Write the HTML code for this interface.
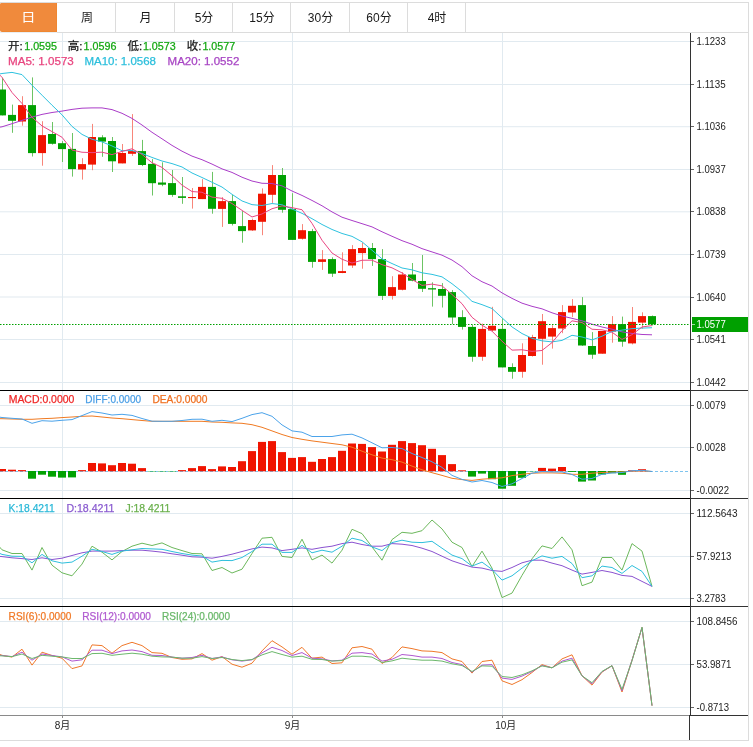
<!DOCTYPE html>
<html><head><meta charset="utf-8"><style>
html,body{margin:0;padding:0;background:#fff;width:753px;height:747px;overflow:hidden}
svg{display:block}
</style></head><body>
<svg width="753" height="747" viewBox="0 0 753 747">
<defs>
<clipPath id="cmain"><rect x="0" y="33" width="690" height="357"/></clipPath>
<clipPath id="cmacd"><rect x="0" y="391" width="690" height="107"/></clipPath>
<clipPath id="ckdj"><rect x="0" y="499" width="690" height="107"/></clipPath>
<clipPath id="crsi"><rect x="0" y="607" width="690" height="108"/></clipPath>
</defs>
<rect x="0" y="0" width="753" height="747" fill="#fff"/>
<!-- tab bar -->
<rect x="0" y="2" width="749" height="1" fill="#dcdcdc"/>
<rect x="0" y="32" width="749" height="1" fill="#dcdcdc"/>
<rect x="748" y="2" width="1" height="739" fill="#dcdcdc"/>
<rect x="0" y="740" width="749" height="1" fill="#dcdcdc"/>
<rect x="115" y="3" width="1" height="29" fill="#dcdcdc"/><rect x="174" y="3" width="1" height="29" fill="#dcdcdc"/><rect x="232" y="3" width="1" height="29" fill="#dcdcdc"/><rect x="290" y="3" width="1" height="29" fill="#dcdcdc"/><rect x="349" y="3" width="1" height="29" fill="#dcdcdc"/><rect x="407" y="3" width="1" height="29" fill="#dcdcdc"/><rect x="465" y="3" width="1" height="29" fill="#dcdcdc"/>
<rect x="0" y="32" width="57" height="1" fill="#e9eef2"/>
<path d="M0 5 Q0 3 2 3 L57 3 L57 32 L2 32 Q0 32 0 30 Z" fill="#ef8731"/>
<path d="M0 5 Q0 3 2 3 L56 3 L56 31 L2 31 Q0 31 0 29 Z" fill="#f08a3c"/>
<g font-family="'Liberation Sans', 'Noto Sans CJK SC', sans-serif" font-size="12"><text x="21.1" y="21.7" fill="#fff" textLength="14.6" lengthAdjust="spacingAndGlyphs">日</text><text x="87" y="21.5" text-anchor="middle" fill="#1a1a1a">周</text><text x="145.5" y="21.5" text-anchor="middle" fill="#1a1a1a">月</text><text x="204" y="21.5" text-anchor="middle" fill="#1a1a1a">5分</text><text x="262" y="21.5" text-anchor="middle" fill="#1a1a1a">15分</text><text x="320.5" y="21.5" text-anchor="middle" fill="#1a1a1a">30分</text><text x="379" y="21.5" text-anchor="middle" fill="#1a1a1a">60分</text><text x="437" y="21.5" text-anchor="middle" fill="#1a1a1a">4时</text></g>
<rect x="0" y="41" width="690" height="1" fill="#e1eaf0"/>
<rect x="0" y="84" width="690" height="1" fill="#e1eaf0"/>
<rect x="0" y="126.2" width="690" height="1" fill="#e1eaf0"/>
<rect x="0" y="169" width="690" height="1" fill="#e1eaf0"/>
<rect x="0" y="211.3" width="690" height="1" fill="#e1eaf0"/>
<rect x="0" y="254" width="690" height="1" fill="#e1eaf0"/>
<rect x="0" y="296.5" width="690" height="1" fill="#e1eaf0"/>
<rect x="0" y="339" width="690" height="1" fill="#e1eaf0"/>
<rect x="0" y="382" width="690" height="1" fill="#e1eaf0"/>
<rect x="0" y="405" width="690" height="1" fill="#e1eaf0"/>
<rect x="0" y="447" width="690" height="1" fill="#e1eaf0"/>
<rect x="0" y="490" width="690" height="1" fill="#e1eaf0"/>
<rect x="0" y="513" width="690" height="1" fill="#e1eaf0"/>
<rect x="0" y="556" width="690" height="1" fill="#e1eaf0"/>
<rect x="0" y="598" width="690" height="1" fill="#e1eaf0"/>
<rect x="0" y="621" width="690" height="1" fill="#e1eaf0"/>
<rect x="0" y="664" width="690" height="1" fill="#e1eaf0"/>
<rect x="0" y="707" width="690" height="1" fill="#e1eaf0"/>
<rect x="62" y="33" width="1" height="682" fill="#e1eaf0"/>
<rect x="292" y="33" width="1" height="682" fill="#e1eaf0"/>
<rect x="502" y="33" width="1" height="682" fill="#e1eaf0"/>
<g clip-path="url(#cmain)"><rect x="2" y="77.7" width="1" height="37.7" fill="#6cc464"/><rect x="-2" y="89.5" width="8" height="25.9" fill="#00a000"/><rect x="12" y="104.6" width="1" height="28.2" fill="#6cc464"/><rect x="8" y="114.9" width="8" height="5.9" fill="#00a000"/><rect x="22" y="96.2" width="1" height="29.5" fill="#f8867a"/><rect x="18" y="105.1" width="8" height="16.4" fill="#f01400"/><rect x="32" y="77.4" width="1" height="79.1" fill="#6cc464"/><rect x="28" y="105.1" width="8" height="48" fill="#00a000"/><rect x="42" y="121.2" width="1" height="44.5" fill="#f8867a"/><rect x="38" y="135.1" width="8" height="18" fill="#f01400"/><rect x="52" y="122" width="1" height="22.6" fill="#6cc464"/><rect x="48" y="134" width="8" height="9.8" fill="#00a000"/><rect x="62" y="141.1" width="1" height="20.9" fill="#6cc464"/><rect x="58" y="143.2" width="8" height="5.9" fill="#00a000"/><rect x="72" y="133" width="1" height="43.6" fill="#6cc464"/><rect x="68" y="148.9" width="8" height="20.2" fill="#00a000"/><rect x="82" y="158.2" width="1" height="21.4" fill="#f8867a"/><rect x="78" y="164.1" width="8" height="5.4" fill="#f01400"/><rect x="92" y="123.9" width="1" height="46.3" fill="#f8867a"/><rect x="88" y="137" width="8" height="27.6" fill="#f01400"/><rect x="102" y="135.2" width="1" height="21.6" fill="#6cc464"/><rect x="98" y="137.3" width="8" height="4.3" fill="#00a000"/><rect x="112" y="137" width="1" height="35" fill="#6cc464"/><rect x="108" y="141" width="8" height="20.3" fill="#00a000"/><rect x="122" y="144" width="1" height="19.4" fill="#f8867a"/><rect x="118" y="153" width="8" height="10.4" fill="#f01400"/><rect x="132" y="114.1" width="1" height="41.8" fill="#f8867a"/><rect x="128" y="151.1" width="8" height="2.7" fill="#f01400"/><rect x="142" y="139.9" width="1" height="26.2" fill="#6cc464"/><rect x="138" y="151.1" width="8" height="13.9" fill="#00a000"/><rect x="152" y="159.1" width="1" height="36.4" fill="#6cc464"/><rect x="148" y="163.9" width="8" height="19.3" fill="#00a000"/><rect x="162" y="162.3" width="1" height="23.9" fill="#6cc464"/><rect x="158" y="182.5" width="8" height="2.2" fill="#00a000"/><rect x="172" y="170" width="1" height="26.8" fill="#6cc464"/><rect x="168" y="183.1" width="8" height="11.8" fill="#00a000"/><rect x="182" y="177" width="1" height="26.8" fill="#6cc464"/><rect x="178" y="196.3" width="8" height="1.6" fill="#00a000"/><rect x="192" y="188" width="1" height="20.6" fill="#f8867a"/><rect x="188" y="197" width="8" height="1.1" fill="#f01400"/><rect x="202" y="179.1" width="1" height="20" fill="#f8867a"/><rect x="198" y="186.9" width="8" height="12.2" fill="#f01400"/><rect x="212" y="171.9" width="1" height="41.8" fill="#6cc464"/><rect x="208" y="186.9" width="8" height="21.9" fill="#00a000"/><rect x="222" y="197.1" width="1" height="29.8" fill="#f8867a"/><rect x="218" y="201.1" width="8" height="7.8" fill="#f01400"/><rect x="232" y="195" width="1" height="30.5" fill="#6cc464"/><rect x="228" y="201.1" width="8" height="22.8" fill="#00a000"/><rect x="242" y="211.1" width="1" height="31.6" fill="#6cc464"/><rect x="238" y="226.1" width="8" height="5" fill="#00a000"/><rect x="252" y="218.6" width="1" height="12.3" fill="#f8867a"/><rect x="248" y="220" width="8" height="10.4" fill="#f01400"/><rect x="262" y="188.4" width="1" height="46.8" fill="#f8867a"/><rect x="258" y="193.7" width="8" height="28.1" fill="#f01400"/><rect x="272" y="165.1" width="1" height="37.8" fill="#f8867a"/><rect x="268" y="175" width="8" height="19.8" fill="#f01400"/><rect x="282" y="168" width="1" height="44.7" fill="#6cc464"/><rect x="278" y="175" width="8" height="34.8" fill="#00a000"/><rect x="292" y="193.2" width="1" height="46.7" fill="#6cc464"/><rect x="288" y="209.1" width="8" height="30.8" fill="#00a000"/><rect x="302" y="224.1" width="1" height="15.5" fill="#f8867a"/><rect x="298" y="230.2" width="8" height="8.6" fill="#f01400"/><rect x="312" y="228.9" width="1" height="38.8" fill="#6cc464"/><rect x="308" y="231.1" width="8" height="30.8" fill="#00a000"/><rect x="322" y="250.1" width="1" height="19.8" fill="#f8867a"/><rect x="318" y="259.3" width="8" height="2.6" fill="#f01400"/><rect x="332" y="257.3" width="1" height="19.6" fill="#6cc464"/><rect x="328" y="259.1" width="8" height="14.6" fill="#00a000"/><rect x="342" y="252.3" width="1" height="20.9" fill="#f8867a"/><rect x="338" y="271.1" width="8" height="1.9" fill="#f01400"/><rect x="352" y="245.1" width="1" height="22.8" fill="#f8867a"/><rect x="348" y="249.1" width="8" height="16.4" fill="#f01400"/><rect x="362" y="242.7" width="1" height="26" fill="#f8867a"/><rect x="358" y="248" width="8" height="5.1" fill="#f01400"/><rect x="372" y="243" width="1" height="22.9" fill="#6cc464"/><rect x="368" y="248" width="8" height="11.1" fill="#00a000"/><rect x="382" y="249.1" width="1" height="50.9" fill="#6cc464"/><rect x="378" y="259.1" width="8" height="36.8" fill="#00a000"/><rect x="392" y="276.2" width="1" height="23.3" fill="#f8867a"/><rect x="388" y="287.1" width="8" height="8.8" fill="#f01400"/><rect x="402" y="272.1" width="1" height="18.3" fill="#f8867a"/><rect x="398" y="274.5" width="8" height="15.3" fill="#f01400"/><rect x="412" y="263" width="1" height="18.3" fill="#6cc464"/><rect x="408" y="274.5" width="8" height="6.2" fill="#00a000"/><rect x="422" y="255" width="1" height="37" fill="#6cc464"/><rect x="418" y="281" width="8" height="7.8" fill="#00a000"/><rect x="432" y="282.3" width="1" height="24.3" fill="#6cc464"/><rect x="428" y="288.2" width="8" height="1.3" fill="#00a000"/><rect x="442" y="283.1" width="1" height="24.4" fill="#6cc464"/><rect x="438" y="289" width="8" height="6.8" fill="#00a000"/><rect x="452" y="290.1" width="1" height="34.1" fill="#6cc464"/><rect x="448" y="292.1" width="8" height="25.4" fill="#00a000"/><rect x="462" y="310.2" width="1" height="19.4" fill="#6cc464"/><rect x="458" y="317.1" width="8" height="9.8" fill="#00a000"/><rect x="472" y="324.9" width="1" height="36.8" fill="#6cc464"/><rect x="468" y="326.9" width="8" height="29.9" fill="#00a000"/><rect x="482" y="323.6" width="1" height="37.2" fill="#f8867a"/><rect x="478" y="328.9" width="8" height="27.9" fill="#f01400"/><rect x="492" y="306.8" width="1" height="24.4" fill="#f8867a"/><rect x="488" y="325.8" width="8" height="4.7" fill="#f01400"/><rect x="502" y="318.2" width="1" height="49.2" fill="#6cc464"/><rect x="498" y="328.9" width="8" height="38.5" fill="#00a000"/><rect x="512" y="363.3" width="1" height="15.4" fill="#6cc464"/><rect x="508" y="367" width="8" height="4.8" fill="#00a000"/><rect x="522" y="343.3" width="1" height="34.4" fill="#f8867a"/><rect x="518" y="355" width="8" height="16.8" fill="#f01400"/><rect x="532" y="334.8" width="1" height="21.8" fill="#f8867a"/><rect x="528" y="337" width="8" height="19" fill="#f01400"/><rect x="542" y="314" width="1" height="50.7" fill="#f8867a"/><rect x="538" y="321.2" width="8" height="17.6" fill="#f01400"/><rect x="552" y="325.2" width="1" height="23.4" fill="#f8867a"/><rect x="548" y="328.1" width="8" height="8.5" fill="#f01400"/><rect x="562" y="305.1" width="1" height="28.1" fill="#f8867a"/><rect x="558" y="312.1" width="8" height="16.4" fill="#f01400"/><rect x="572" y="299.1" width="1" height="18" fill="#f8867a"/><rect x="568" y="305.8" width="8" height="6.7" fill="#f01400"/><rect x="582" y="297.1" width="1" height="48.8" fill="#6cc464"/><rect x="578" y="305.1" width="8" height="40.4" fill="#00a000"/><rect x="592" y="332.1" width="1" height="26.7" fill="#6cc464"/><rect x="588" y="346" width="8" height="8.7" fill="#00a000"/><rect x="602" y="331" width="1" height="22.7" fill="#f8867a"/><rect x="598" y="331" width="8" height="22.7" fill="#f01400"/><rect x="612" y="316.1" width="1" height="26.6" fill="#f8867a"/><rect x="608" y="324.1" width="8" height="7.5" fill="#f01400"/><rect x="622" y="316.6" width="1" height="30.1" fill="#6cc464"/><rect x="618" y="324.1" width="8" height="17.6" fill="#00a000"/><rect x="632" y="307" width="1" height="37.4" fill="#f8867a"/><rect x="628" y="321.9" width="8" height="21.5" fill="#f01400"/><rect x="642" y="312.3" width="1" height="16.3" fill="#f8867a"/><rect x="638" y="316.1" width="8" height="6.5" fill="#f01400"/><rect x="652" y="315.5" width="1" height="10" fill="#6cc464"/><rect x="648" y="316.1" width="8" height="8.2" fill="#00a000"/>
<path d="M-8 128.3 L2 126.8 L12 123.7 L22 120.4 L32 117.1 L42 114.4 L52 112.5 L62 111.1 L72 109.4 L82 108.2 L92 107.9 L102 107.9 L112 109.6 L122 113.3 L132 118.4 L142 125 L152 132.3 L162 138.8 L172 145.4 L182 151.2 L192 156.12 L202 159.69 L212 164.09 L222 168.89 L232 172.43 L242 177.23 L252 181.04 L262 183.27 L272 183.56 L282 185.85 L292 191 L302 195.43 L312 200.45 L322 205.77 L332 211.9 L342 217.21 L352 220.5 L362 223.67 L372 226.88 L382 231.78 L392 236.28 L402 240.66 L412 244.26 L422 248.64 L432 251.92 L442 255.16 L452 260.03 L462 266.69 L472 275.78 L482 281.74 L492 286.03 L502 292.89 L512 298.38 L522 303.17 L532 306.33 L542 308.84 L552 312.79 L562 316 L572 318.33 L582 320.81 L592 324.19 L602 327.01 L612 329.19 L622 331.83 L632 333.45 L642 334.47 L652 334.81" fill="none" stroke="#aa3cc8" stroke-width="1"/>
<path d="M-8 75.5 L2 73.5 L12 72.4 L22 74.6 L32 85.2 L42 95.2 L52 105.2 L62 114.8 L72 126.4 L82 134.4 L92 139.26 L102 141.88 L112 145.93 L122 150.72 L132 150.52 L142 153.51 L152 157.45 L162 161.01 L172 163.59 L182 166.97 L192 172.97 L202 177.5 L212 182.25 L222 187.06 L232 194.34 L242 200.95 L252 204.63 L262 205.53 L272 203.54 L282 204.73 L292 209.02 L302 213.35 L312 218.66 L322 224.48 L332 229.46 L342 233.46 L352 236.37 L362 241.8 L372 250.21 L382 258.82 L392 263.54 L402 267.97 L412 269.85 L422 272.8 L432 274.38 L442 276.85 L452 283.69 L462 291.58 L472 301.35 L482 304.65 L492 308.52 L502 317.81 L512 326.92 L522 333.54 L532 338.29 L542 340.83 L552 341.89 L562 340.41 L572 335.31 L582 336.97 L592 339.86 L602 336.22 L612 331.45 L622 330.12 L632 328.61 L642 328.1 L652 327.72" fill="none" stroke="#2ec2df" stroke-width="1"/>
<path d="M-8 67.3 L2 77.3 L12 92.5 L22 103.5 L32 117.3 L42 125.9 L52 131.58 L62 137.24 L72 150.04 L82 152.24 L92 152.62 L102 152.18 L112 154.62 L122 151.4 L132 148.8 L142 154.4 L152 162.72 L162 167.4 L172 175.78 L182 185.14 L192 191.54 L202 192.28 L212 197.1 L222 198.34 L232 203.54 L242 210.36 L252 216.98 L262 213.96 L272 208.74 L282 205.92 L292 207.68 L302 209.72 L312 223.36 L322 240.22 L332 253 L342 259.24 L352 263.02 L362 260.24 L372 260.2 L382 264.64 L392 267.84 L402 272.92 L412 279.46 L422 285.4 L432 284.12 L442 285.86 L452 294.46 L462 303.7 L472 317.3 L482 325.18 L492 331.18 L502 341.16 L512 350.14 L522 349.78 L532 351.4 L542 350.48 L552 342.62 L562 330.68 L572 320.84 L582 322.54 L592 329.24 L602 329.82 L612 332.22 L622 339.4 L632 334.68 L642 326.96 L652 325.62" fill="none" stroke="#ea4683" stroke-width="1"/>
</g>
<line x1="0" y1="324.5" x2="689" y2="324.5" stroke="#00a000" stroke-width="1" stroke-dasharray="1.5 1.5"/>
<g clip-path="url(#cmacd)">
<line x1="0" y1="471.5" x2="690" y2="471.5" stroke="#7fc4ee" stroke-width="1" stroke-dasharray="3 2"/>
<rect x="-2" y="469" width="8" height="2.3" fill="#f01400"/><rect x="8" y="469.7" width="8" height="1.6" fill="#f01400"/><rect x="18" y="470.1" width="8" height="1.2" fill="#f01400"/><rect x="28" y="471" width="8" height="7.7" fill="#02a202"/><rect x="38" y="471" width="8" height="3.7" fill="#02a202"/><rect x="48" y="471" width="8" height="5.7" fill="#02a202"/><rect x="58" y="471" width="8" height="6.6" fill="#02a202"/><rect x="68" y="471" width="8" height="6.4" fill="#02a202"/><rect x="78" y="470.1" width="8" height="1.2" fill="#f01400"/><rect x="88" y="463" width="8" height="8.3" fill="#f01400"/><rect x="98" y="463.4" width="8" height="7.9" fill="#f01400"/><rect x="108" y="465.2" width="8" height="6.1" fill="#f01400"/><rect x="118" y="463" width="8" height="8.3" fill="#f01400"/><rect x="128" y="463.7" width="8" height="7.6" fill="#f01400"/><rect x="138" y="468.1" width="8" height="3.2" fill="#f01400"/><rect x="148" y="471" width="8" height="0.4" fill="#02a202"/><rect x="158" y="471" width="8" height="0.4" fill="#02a202"/><rect x="168" y="471" width="8" height="0.4" fill="#02a202"/><rect x="178" y="470.1" width="8" height="1.2" fill="#f01400"/><rect x="188" y="468.1" width="8" height="3.2" fill="#f01400"/><rect x="198" y="466.1" width="8" height="5.2" fill="#f01400"/><rect x="208" y="469.1" width="8" height="2.2" fill="#f01400"/><rect x="218" y="466.4" width="8" height="4.9" fill="#f01400"/><rect x="228" y="467" width="8" height="4.3" fill="#f01400"/><rect x="238" y="461.2" width="8" height="10.1" fill="#f01400"/><rect x="248" y="451.1" width="8" height="20.2" fill="#f01400"/><rect x="258" y="441.9" width="8" height="29.4" fill="#f01400"/><rect x="268" y="441.1" width="8" height="30.2" fill="#f01400"/><rect x="278" y="452.1" width="8" height="19.2" fill="#f01400"/><rect x="288" y="457.9" width="8" height="13.4" fill="#f01400"/><rect x="298" y="457.1" width="8" height="14.2" fill="#f01400"/><rect x="308" y="461.8" width="8" height="9.5" fill="#f01400"/><rect x="318" y="459" width="8" height="12.3" fill="#f01400"/><rect x="328" y="457.1" width="8" height="14.2" fill="#f01400"/><rect x="338" y="450.8" width="8" height="20.5" fill="#f01400"/><rect x="348" y="443.5" width="8" height="27.8" fill="#f01400"/><rect x="358" y="443.9" width="8" height="27.4" fill="#f01400"/><rect x="368" y="447.1" width="8" height="24.2" fill="#f01400"/><rect x="378" y="451.5" width="8" height="19.8" fill="#f01400"/><rect x="388" y="444.8" width="8" height="26.5" fill="#f01400"/><rect x="398" y="441.1" width="8" height="30.2" fill="#f01400"/><rect x="408" y="443.1" width="8" height="28.2" fill="#f01400"/><rect x="418" y="445.2" width="8" height="26.1" fill="#f01400"/><rect x="428" y="448.8" width="8" height="22.5" fill="#f01400"/><rect x="438" y="455.1" width="8" height="16.2" fill="#f01400"/><rect x="448" y="464.1" width="8" height="7.2" fill="#f01400"/><rect x="458" y="470.3" width="8" height="1" fill="#f01400"/><rect x="468" y="471" width="8" height="5.6" fill="#02a202"/><rect x="478" y="471" width="8" height="2.6" fill="#02a202"/><rect x="488" y="471" width="8" height="8.2" fill="#02a202"/><rect x="498" y="471" width="8" height="17.7" fill="#02a202"/><rect x="508" y="471" width="8" height="14.8" fill="#02a202"/><rect x="518" y="471" width="8" height="6.8" fill="#02a202"/><rect x="528" y="471" width="8" height="0.3" fill="#02a202"/><rect x="538" y="467.9" width="8" height="3.4" fill="#f01400"/><rect x="548" y="468.6" width="8" height="2.7" fill="#f01400"/><rect x="558" y="467" width="8" height="4.3" fill="#f01400"/><rect x="568" y="471" width="8" height="0.9" fill="#02a202"/><rect x="578" y="471" width="8" height="10.6" fill="#02a202"/><rect x="588" y="471" width="8" height="9.5" fill="#02a202"/><rect x="598" y="471" width="8" height="3.5" fill="#02a202"/><rect x="608" y="471" width="8" height="2.2" fill="#02a202"/><rect x="618" y="471" width="8" height="3.8" fill="#02a202"/><rect x="628" y="470.3" width="8" height="1" fill="#f01400"/><rect x="638" y="469.2" width="8" height="2.1" fill="#f01400"/>
<path d="M-8 418.7 L2 418.7 L12 419 L22 419.3 L32 419.3 L42 418.7 L52 418.3 L62 417.6 L72 417 L82 416.3 L92 416 L102 417 L112 418 L122 418.7 L132 419.6 L142 420.5 L152 421.3 L162 421.3 L172 421.3 L182 421.3 L192 421.3 L202 421.3 L212 422 L222 422.3 L232 422.9 L242 423.3 L252 424.7 L262 427.3 L272 430.9 L282 434.5 L292 437.5 L302 439.3 L312 440.9 L322 442.2 L332 443.5 L342 444.8 L352 447.2 L362 451.2 L372 454.8 L382 458.1 L392 459.7 L402 462.1 L412 466.1 L422 469.8 L432 472.7 L442 475.4 L452 478.3 L462 479.6 L472 480.4 L482 479.2 L492 478.5 L502 477.8 L512 475.6 L522 474.3 L532 473.2 L542 472.9 L552 472.9 L562 473.2 L572 474.3 L582 474.3 L592 473.2 L602 472.5 L612 472.1 L622 471.9 L632 471.2 L642 470.8 L652 471.5" fill="none" stroke="#f07a22" stroke-width="1"/>
<path d="M-8 416 L2 417.5 L12 418.3 L22 419 L32 423.3 L42 420.7 L52 421.2 L62 420.3 L72 419.6 L82 415.6 L92 411.6 L102 413 L112 415 L122 414.3 L132 415.4 L142 418.5 L152 421.2 L162 421.3 L172 421.3 L182 420.5 L192 419.3 L202 419.2 L212 421.3 L222 420.3 L232 421.6 L242 418.3 L252 414.6 L262 412.7 L272 416.3 L282 424.9 L292 430.9 L302 432.2 L312 436.5 L322 436.5 L332 436.5 L342 434.9 L352 434.2 L362 437.9 L372 442.8 L382 447.8 L392 447.5 L402 448.6 L412 453.5 L422 457.5 L432 461.8 L442 467.4 L452 475.4 L462 479.4 L472 482 L482 480.5 L492 482.5 L502 486.5 L512 483.8 L522 478.5 L532 473.2 L542 471.5 L552 471.9 L562 471.9 L572 474.5 L582 479.2 L592 478.5 L602 474.3 L612 472.9 L622 472.5 L632 470.8 L642 470.3 L652 471.5" fill="none" stroke="#4ba3ea" stroke-width="1"/>
</g>
<g clip-path="url(#ckdj)">
<path d="M-8 538.3 L2 549.8 L12 553.5 L22 553.5 L32 570.1 L42 547.5 L52 565.2 L62 572.8 L72 575.8 L82 564.1 L92 546.2 L102 552.2 L112 559.9 L122 551.5 L132 546.2 L142 543.2 L152 545.5 L162 542.9 L172 547.5 L182 550.6 L192 553.5 L202 553.8 L212 570.5 L222 567.5 L232 573 L242 569.2 L252 553.5 L262 538.2 L272 537.3 L282 556.4 L292 557.5 L302 539.2 L312 559.9 L322 555.1 L332 563.1 L342 550.2 L352 529.3 L362 533.6 L372 546.9 L382 560.2 L392 539.6 L402 532.3 L412 533.3 L422 530.7 L432 520 L442 528.9 L452 542.2 L462 547.5 L472 566.5 L482 551.1 L492 568.1 L502 597.6 L512 593.1 L522 575.4 L532 558.8 L542 545.9 L552 548.5 L562 536.9 L572 549.8 L582 585.7 L592 582.1 L602 557.5 L612 557.5 L622 570.1 L632 543.6 L642 551.1 L652 586.4" fill="none" stroke="#6cb85c" stroke-width="1"/>
<path d="M-8 555.6 L2 556.6 L12 557.8 L22 558.6 L32 559.5 L42 557.8 L52 559.5 L62 558.2 L72 555.5 L82 552.8 L92 551.1 L102 551.1 L112 551.1 L122 550.6 L132 550.2 L142 550.2 L152 551.1 L162 552.2 L172 553.8 L182 555.2 L192 556.8 L202 557.2 L212 558.2 L222 556.4 L232 554.2 L242 551.5 L252 548.9 L262 547.1 L272 547.9 L282 550.6 L292 549.3 L302 547.9 L312 549.3 L322 547.5 L332 546.2 L342 543.6 L352 542.2 L362 544.5 L372 546.2 L382 546.2 L392 543.6 L402 544.2 L412 545.5 L422 548.2 L432 551.5 L442 556.2 L452 560.8 L462 564.1 L472 567.1 L482 568.1 L492 570.5 L502 571.4 L512 567.5 L522 562.8 L532 560.2 L542 560.2 L552 563.1 L562 565.7 L572 570.1 L582 574.1 L592 572.4 L602 570.5 L612 572.4 L622 575.4 L632 576.4 L642 581.4 L652 586.4" fill="none" stroke="#8a52d0" stroke-width="1"/>
<path d="M-8 549.9 L2 554.4 L12 556.2 L22 556.4 L32 562.8 L42 554.4 L52 560.8 L62 563.1 L72 562.1 L82 556.2 L92 549.3 L102 551.5 L112 554.4 L122 551.1 L132 549.8 L142 548.5 L152 548.9 L162 549.3 L172 551.5 L182 553.5 L192 555.1 L202 556 L212 562.1 L222 560.4 L232 560.6 L242 557.5 L252 551.5 L262 544.2 L272 544.2 L282 552.4 L292 552.4 L302 545.3 L312 552.8 L322 550.2 L332 552.2 L342 546.2 L352 538.2 L362 540.5 L372 546.9 L382 550.6 L392 542.6 L402 540.2 L412 542.2 L422 542.6 L432 541.3 L442 548.2 L452 555.1 L462 558.6 L472 566.1 L482 562.1 L492 569.4 L502 580.1 L512 575.8 L522 568.1 L532 560.8 L542 555.9 L552 558.2 L562 556.4 L572 563.5 L582 577.7 L592 575.8 L602 566.1 L612 567.5 L622 573.4 L632 565.5 L642 571.4 L652 586.4" fill="none" stroke="#2ebfdc" stroke-width="1"/>
</g>
<g clip-path="url(#crsi)">
<path d="M-8 651.3 L2 655.3 L12 657.1 L22 649.2 L32 665.1 L42 652.2 L52 655.5 L62 658.2 L72 668.6 L82 665.9 L92 644.9 L102 645.6 L112 653.2 L122 645.6 L132 642.3 L142 645.6 L152 652.6 L162 653.3 L172 657.5 L182 659.3 L192 658.9 L202 653.6 L212 660.2 L222 656.6 L232 664.2 L242 667.2 L252 663.2 L262 650.9 L272 640.7 L282 646.9 L292 654.2 L302 647.3 L312 658.2 L322 657.1 L332 663.5 L342 662.8 L352 647.8 L362 646.5 L372 649.2 L382 663.5 L392 657.5 L402 646.9 L412 648.6 L422 650.9 L432 651.3 L442 652.6 L452 658.9 L462 661.5 L472 673.1 L482 661.5 L492 660.2 L502 680.8 L512 684.5 L522 679.7 L532 672.5 L542 664.6 L552 667.8 L562 658.9 L572 654.8 L582 675.8 L592 685.1 L602 672.1 L612 665.7 L622 692 L632 660.2 L642 627.6 L652 705.6" fill="none" stroke="#f0782a" stroke-width="1"/>
<path d="M-8 654.5 L2 655.5 L12 656.6 L22 652.2 L32 660.2 L42 654 L52 655.5 L62 656.9 L72 661.1 L82 659.8 L92 650.2 L102 650.2 L112 653.6 L122 650.9 L132 650 L142 651.6 L152 655.3 L162 655.5 L172 657.1 L182 658.2 L192 657.5 L202 655.3 L212 658.5 L222 656.9 L232 659.8 L242 661.1 L252 659.8 L262 652.9 L272 647.3 L282 650.5 L292 655.5 L302 652.6 L312 658.2 L322 658.9 L332 660.9 L342 660.2 L352 653.2 L362 652.6 L372 654 L382 661.1 L392 659.3 L402 654.5 L412 655.5 L422 657.1 L432 657.1 L442 658.5 L452 662.5 L462 664.6 L472 672.1 L482 665.1 L492 664.6 L502 678.1 L512 679.4 L522 676.1 L532 671.5 L542 665.5 L552 667.8 L562 661.1 L572 658.2 L582 675.8 L592 683.8 L602 671.8 L612 665.7 L622 690.7 L632 660.2 L642 627.6 L652 705.6" fill="none" stroke="#b058d0" stroke-width="1"/>
<path d="M-8 655.4 L2 655.9 L12 656.6 L22 654 L32 658.5 L42 655.3 L52 656.2 L62 656.9 L72 658.5 L82 658.5 L92 653.6 L102 653.3 L112 655.3 L122 654.2 L132 653.2 L142 654.2 L152 656.2 L162 656.9 L172 657.1 L182 658.2 L192 658.2 L202 656.6 L212 658.5 L222 657.5 L232 659.5 L242 660.6 L252 659.5 L262 654.9 L272 651.6 L282 654.5 L292 657.1 L302 656.2 L312 659.3 L322 659.5 L332 661.1 L342 660.6 L352 656.2 L362 656.2 L372 657.1 L382 662.5 L392 660.9 L402 658.2 L412 659.3 L422 660.2 L432 660.2 L442 661.1 L452 663.8 L462 665.5 L472 671.5 L482 665.9 L492 666.2 L502 676.5 L512 677.5 L522 674.8 L532 670.8 L542 665.9 L552 667.8 L562 662.2 L572 659.9 L582 675.8 L592 682.7 L602 671.4 L612 665.7 L622 689.4 L632 660.8 L642 627.2 L652 705.6" fill="none" stroke="#6cb86c" stroke-width="1"/>
</g>
<rect x="0" y="390" width="690" height="1" fill="#000"/>
<rect x="690" y="390" width="58" height="1" fill="#333"/>
<rect x="0" y="498" width="690" height="1" fill="#000"/>
<rect x="690" y="498" width="58" height="1" fill="#333"/>
<rect x="0" y="606" width="690" height="1" fill="#000"/>
<rect x="690" y="606" width="58" height="1" fill="#333"/>
<rect x="0" y="715" width="690" height="1" fill="#8a8a8a"/>
<rect x="690" y="715" width="58" height="1" fill="#333"/>
<rect x="690" y="33" width="1" height="682" fill="#333"/>
<rect x="689" y="715" width="1" height="25" fill="#333"/>
<rect x="62" y="716" width="1" height="2" fill="#8a8a8a"/>
<rect x="292" y="716" width="1" height="2" fill="#8a8a8a"/>
<rect x="502" y="716" width="1" height="2" fill="#8a8a8a"/>
<g font-family="'Liberation Sans', Arial, sans-serif">
<rect x="691" y="41" width="3" height="1" fill="#666"/>
<text x="696.5" y="45" font-size="10.5" textLength="29.2" lengthAdjust="spacingAndGlyphs" fill="#222">1.1233</text>
<rect x="691" y="84" width="3" height="1" fill="#666"/>
<text x="696.5" y="88" font-size="10.5" textLength="29.2" lengthAdjust="spacingAndGlyphs" fill="#222">1.1135</text>
<rect x="691" y="126" width="3" height="1" fill="#666"/>
<text x="696.5" y="130" font-size="10.5" textLength="29.2" lengthAdjust="spacingAndGlyphs" fill="#222">1.1036</text>
<rect x="691" y="169" width="3" height="1" fill="#666"/>
<text x="696.5" y="173" font-size="10.5" textLength="29.2" lengthAdjust="spacingAndGlyphs" fill="#222">1.0937</text>
<rect x="691" y="211" width="3" height="1" fill="#666"/>
<text x="696.5" y="215" font-size="10.5" textLength="29.2" lengthAdjust="spacingAndGlyphs" fill="#222">1.0838</text>
<rect x="691" y="254" width="3" height="1" fill="#666"/>
<text x="696.5" y="258" font-size="10.5" textLength="29.2" lengthAdjust="spacingAndGlyphs" fill="#222">1.0739</text>
<rect x="691" y="297" width="3" height="1" fill="#666"/>
<text x="696.5" y="301" font-size="10.5" textLength="29.2" lengthAdjust="spacingAndGlyphs" fill="#222">1.0640</text>
<rect x="691" y="339" width="3" height="1" fill="#666"/>
<text x="696.5" y="343" font-size="10.5" textLength="29.2" lengthAdjust="spacingAndGlyphs" fill="#222">1.0541</text>
<rect x="691" y="382" width="3" height="1" fill="#666"/>
<text x="696.5" y="386" font-size="10.5" textLength="29.2" lengthAdjust="spacingAndGlyphs" fill="#222">1.0442</text>
<rect x="691" y="405" width="3" height="1" fill="#666"/>
<text x="696.5" y="409" font-size="10.5" textLength="29.2" lengthAdjust="spacingAndGlyphs" fill="#222">0.0079</text>
<rect x="691" y="447" width="3" height="1" fill="#666"/>
<text x="696.5" y="451" font-size="10.5" textLength="29.2" lengthAdjust="spacingAndGlyphs" fill="#222">0.0028</text>
<rect x="691" y="490" width="3" height="1" fill="#666"/>
<text x="696.5" y="494" font-size="10.5" textLength="32.5" lengthAdjust="spacingAndGlyphs" fill="#222">-0.0022</text>
<rect x="691" y="513" width="3" height="1" fill="#666"/>
<text x="696.5" y="517" font-size="10.5" textLength="41" lengthAdjust="spacingAndGlyphs" fill="#222">112.5643</text>
<rect x="691" y="556" width="3" height="1" fill="#666"/>
<text x="696.5" y="560" font-size="10.5" textLength="35" lengthAdjust="spacingAndGlyphs" fill="#222">57.9213</text>
<rect x="691" y="598" width="3" height="1" fill="#666"/>
<text x="696.5" y="602" font-size="10.5" textLength="29.2" lengthAdjust="spacingAndGlyphs" fill="#222">3.2783</text>
<rect x="691" y="621" width="3" height="1" fill="#666"/>
<text x="696.5" y="625" font-size="10.5" textLength="41" lengthAdjust="spacingAndGlyphs" fill="#222">108.8456</text>
<rect x="691" y="664" width="3" height="1" fill="#666"/>
<text x="696.5" y="668" font-size="10.5" textLength="35" lengthAdjust="spacingAndGlyphs" fill="#222">53.9871</text>
<rect x="691" y="707" width="3" height="1" fill="#666"/>
<text x="696.5" y="711" font-size="10.5" textLength="32.5" lengthAdjust="spacingAndGlyphs" fill="#222">-0.8713</text>
</g>
<rect x="692" y="317" width="56" height="15" fill="#00a000"/>
<rect x="692" y="324" width="3" height="1" fill="#9fd89f"/>
<text x="696.5" y="328.3" font-family="'Liberation Sans', Arial, sans-serif" font-size="10.5" textLength="29.2" lengthAdjust="spacingAndGlyphs" fill="#fff">1.0577</text>
<g font-family="'Liberation Sans', 'Noto Sans CJK SC', sans-serif" font-size="10" fill="#222">
<text x="62.5" y="728.5" text-anchor="middle">8月</text>
<text x="292.5" y="728.5" text-anchor="middle">9月</text>
<text x="495.2" y="728.5" textLength="21" lengthAdjust="spacingAndGlyphs">10月</text>
</g>
<text x="8.1" y="50.3" font-family="'Liberation Sans', 'Noto Sans CJK SC', sans-serif" font-size="11.5" fill="#1a1a1a" stroke="#1a1a1a" stroke-width="0.25">开:</text>
<text x="24.2" y="50.2" font-family="'Liberation Sans', Arial, sans-serif" font-size="10.5" fill="#14a814" stroke="#14a814" stroke-width="0.25" textLength="32.8" lengthAdjust="spacingAndGlyphs">1.0595</text>
<text x="67.8" y="50.3" font-family="'Liberation Sans', 'Noto Sans CJK SC', sans-serif" font-size="11.5" fill="#1a1a1a" stroke="#1a1a1a" stroke-width="0.25">高:</text>
<text x="83.6" y="50.2" font-family="'Liberation Sans', Arial, sans-serif" font-size="10.5" fill="#14a814" stroke="#14a814" stroke-width="0.25" textLength="32.8" lengthAdjust="spacingAndGlyphs">1.0596</text>
<text x="127.5" y="50.3" font-family="'Liberation Sans', 'Noto Sans CJK SC', sans-serif" font-size="11.5" fill="#1a1a1a" stroke="#1a1a1a" stroke-width="0.25">低:</text>
<text x="142.9" y="50.2" font-family="'Liberation Sans', Arial, sans-serif" font-size="10.5" fill="#14a814" stroke="#14a814" stroke-width="0.25" textLength="32.8" lengthAdjust="spacingAndGlyphs">1.0573</text>
<text x="186.8" y="50.3" font-family="'Liberation Sans', 'Noto Sans CJK SC', sans-serif" font-size="11.5" fill="#1a1a1a" stroke="#1a1a1a" stroke-width="0.25">收:</text>
<text x="202.4" y="50.2" font-family="'Liberation Sans', Arial, sans-serif" font-size="10.5" fill="#14a814" stroke="#14a814" stroke-width="0.25" textLength="32.8" lengthAdjust="spacingAndGlyphs">1.0577</text>
<text x="8" y="65.3" font-family="'Liberation Sans', Arial, sans-serif" font-size="10.5" fill="#e8457f" stroke="#e8457f" stroke-width="0.25" textLength="65.8" lengthAdjust="spacingAndGlyphs">MA5: 1.0573</text>
<text x="84.4" y="65.3" font-family="'Liberation Sans', Arial, sans-serif" font-size="10.5" fill="#2cbfdc" stroke="#2cbfdc" stroke-width="0.25" textLength="71.6" lengthAdjust="spacingAndGlyphs">MA10: 1.0568</text>
<text x="167.6" y="65.3" font-family="'Liberation Sans', Arial, sans-serif" font-size="10.5" fill="#a846c4" stroke="#a846c4" stroke-width="0.25" textLength="71.7" lengthAdjust="spacingAndGlyphs">MA20: 1.0552</text>
<text x="8.7" y="402.5" font-family="'Liberation Sans', Arial, sans-serif" font-size="10.3" fill="#f02828" stroke="#f02828" stroke-width="0.25" textLength="65.7" lengthAdjust="spacingAndGlyphs">MACD:0.0000</text>
<text x="85.3" y="402.5" font-family="'Liberation Sans', Arial, sans-serif" font-size="10.3" fill="#4a9fe6" stroke="#4a9fe6" stroke-width="0.25" textLength="55.8" lengthAdjust="spacingAndGlyphs">DIFF:0.0000</text>
<text x="152.4" y="402.5" font-family="'Liberation Sans', Arial, sans-serif" font-size="10.3" fill="#f07020" stroke="#f07020" stroke-width="0.25" textLength="55.1" lengthAdjust="spacingAndGlyphs">DEA:0.0000</text>
<text x="8.6" y="511.5" font-family="'Liberation Sans', Arial, sans-serif" font-size="10.3" fill="#2ab8d8" stroke="#2ab8d8" stroke-width="0.25" textLength="46.2" lengthAdjust="spacingAndGlyphs">K:18.4211</text>
<text x="66.4" y="511.5" font-family="'Liberation Sans', Arial, sans-serif" font-size="10.3" fill="#8a5cd0" stroke="#8a5cd0" stroke-width="0.25" textLength="48.1" lengthAdjust="spacingAndGlyphs">D:18.4211</text>
<text x="125.5" y="511.5" font-family="'Liberation Sans', Arial, sans-serif" font-size="10.3" fill="#6ab04c" stroke="#6ab04c" stroke-width="0.25" textLength="44.8" lengthAdjust="spacingAndGlyphs">J:18.4211</text>
<text x="8.6" y="619.5" font-family="'Liberation Sans', Arial, sans-serif" font-size="10.3" fill="#f07a28" stroke="#f07a28" stroke-width="0.25" textLength="62.8" lengthAdjust="spacingAndGlyphs">RSI(6):0.0000</text>
<text x="82.3" y="619.5" font-family="'Liberation Sans', Arial, sans-serif" font-size="10.3" fill="#b05ad0" stroke="#b05ad0" stroke-width="0.25" textLength="68.7" lengthAdjust="spacingAndGlyphs">RSI(12):0.0000</text>
<text x="162" y="619.5" font-family="'Liberation Sans', Arial, sans-serif" font-size="10.3" fill="#6ab86a" stroke="#6ab86a" stroke-width="0.25" textLength="68" lengthAdjust="spacingAndGlyphs">RSI(24):0.0000</text>
</svg>
</body></html>
